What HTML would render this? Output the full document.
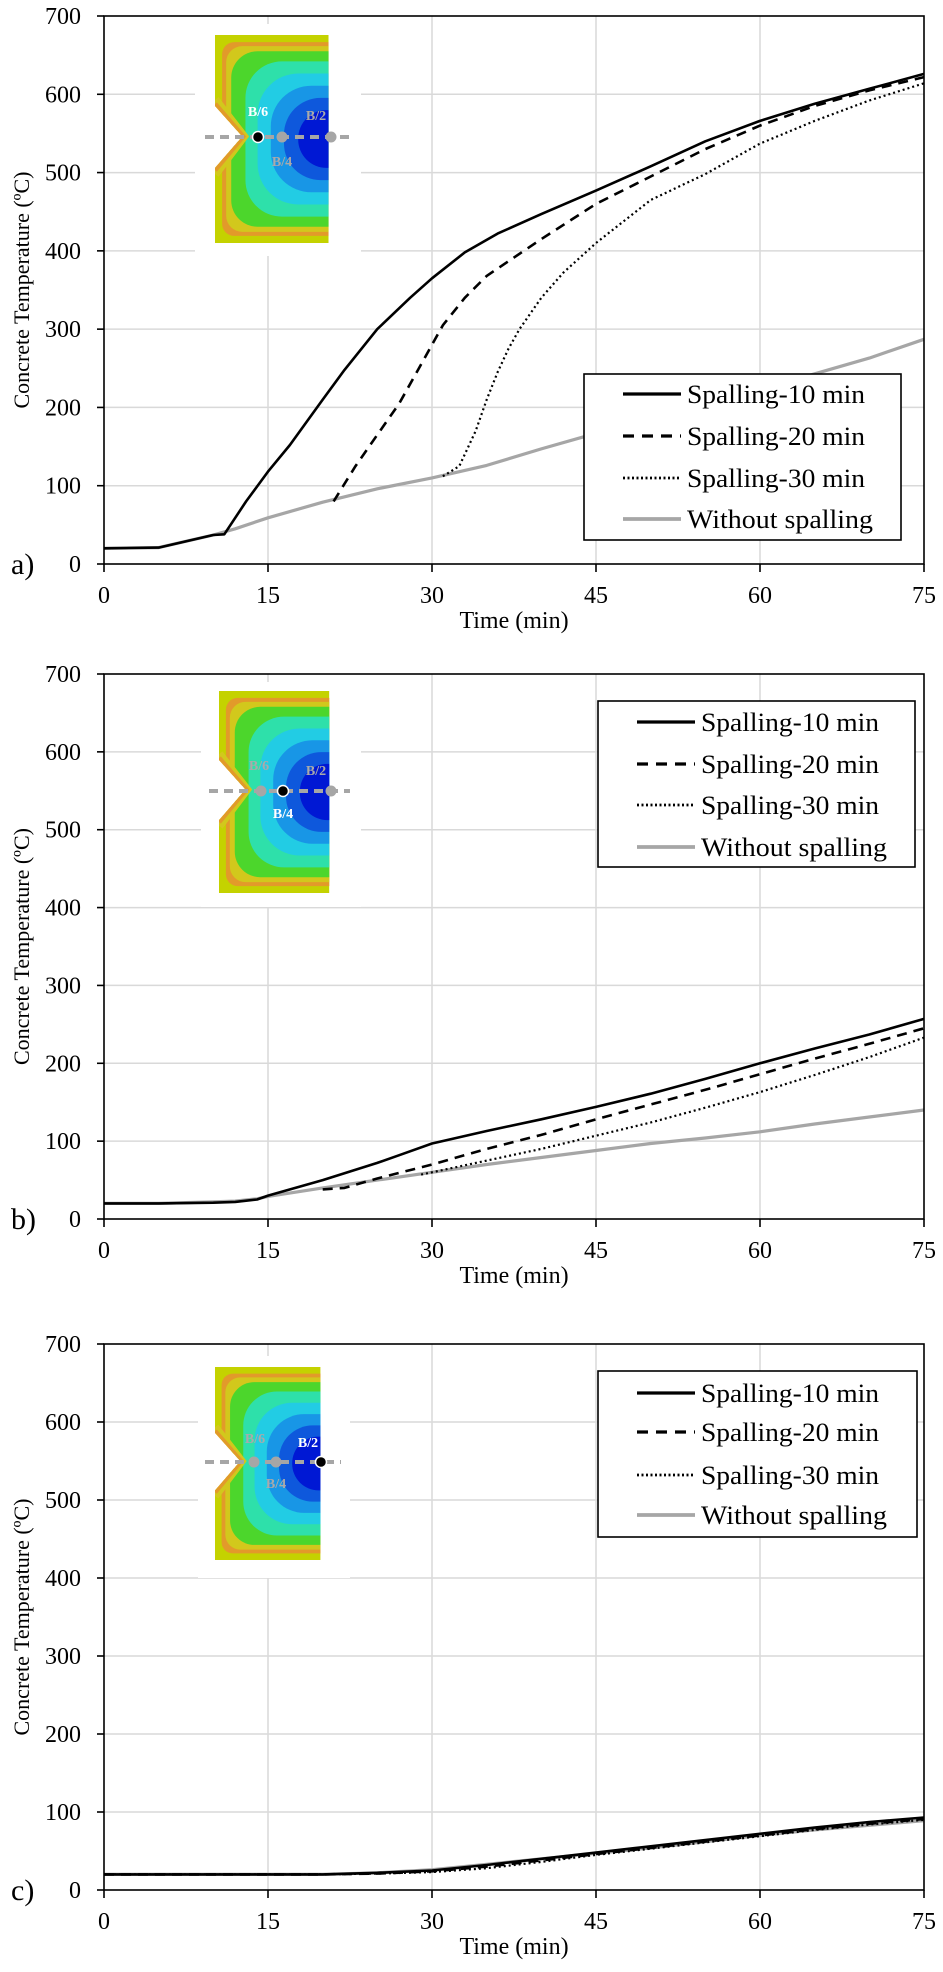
<!DOCTYPE html>
<html><head><meta charset="utf-8">
<style>
html,body{margin:0;padding:0;background:#fff;}
svg{display:block;font-family:"Liberation Serif",serif;}
</style></head>
<body>
<svg id="fig" width="943" height="1972" viewBox="0 0 943 1972" xmlns="http://www.w3.org/2000/svg">
<defs>
<clipPath id="secClip"><polygon points="0,0 112,0 112,205 0,205 0,131 27,100 0,70"/></clipPath>
<g id="section">
<g clip-path="url(#secClip)">
<rect x="0" y="0" width="112" height="205" fill="#c4d200"/>
<rect x="7" y="7" width="130" height="191" rx="12" fill="#e29a2a"/>
<rect x="11" y="11" width="130" height="183" rx="16" fill="#d2c81c"/>
<rect x="16" y="16" width="130" height="173" rx="26" fill="#4cd62c"/>
<rect x="30" y="26" width="130" height="153" rx="36" fill="#2ee0aa"/>
<rect x="42" y="38" width="130" height="129" rx="40" fill="#22cce4"/>
<rect x="55" y="50" width="130" height="105" rx="40" fill="#1896e6"/>
<rect x="68" y="62" width="130" height="81" rx="36" fill="#0e58dc"/>
<rect x="82" y="74" width="130" height="57" rx="28" fill="#0018d4"/>
<polyline points="0,64 28,100 0,137" fill="none" stroke="#d2c81c" stroke-width="9"/>
<polyline points="0,68 27.5,100 0,133" fill="none" stroke="#e29a2a" stroke-width="5"/>
</g>
</g>
</defs>
</svg>
<script>
// ---------- data ----------
const xTicks = [0, 15, 30, 45, 60, 75];
const yTicks = [0, 100, 200, 300, 400, 500, 600, 700];
const legendLabels = ["Spalling-10 min", "Spalling-20 min", "Spalling-30 min", "Without spalling"];
const panelLabels = ["a)", "b)", "c)"];

const aTimeGray = [0,5,10,12,15,20,25,30,35,40,45,50,55,60,65,70,75];
const aGray = [20,21,37,45,59,79,96,110,126,147,167,186,205,223,243,263,287];
const aTime10 = [0,5,10,11,13,15,17,20,22,25,28,30,33,36,40,45,50,55,60,65,70,75];
const a10 = [20,21,37,38,80,118,152,210,248,300,340,365,398,422,447,477,508,540,566,588,607,626];
const aTime20 = [21,23,25,27,29,31,33,35,40,45,50,55,60,65,70,75];
const a20 = [80,125,165,205,255,305,340,368,415,460,495,530,560,585,605,622];
const aTime30 = [31,32.5,34,35,36,37,38,40,42,45,50,55,60,65,70,75];
const a30 = [112,125,170,210,245,275,300,340,372,410,465,498,537,566,592,614];

const bTimeGray = [0,5,10,12,14,15,20,25,30,35,40,45,50,55,60,65,70,75];
const bGray = [20,20,22,23,26,29,40,50,60,70,79,88,97,104,112,122,131,140];
const bTime10 = [0,5,10,12,14,15,20,25,27,30,35,40,45,50,55,60,65,70,75];
const b10 = [20,20,21,22,25,30,50,72,82,97,113,128,144,161,180,200,219,237,257];
const bTime20 = [20,22,25,30,35,40,45,50,55,60,65,70,75];
const b20 = [38,40,52,70,90,108,128,147,166,186,206,225,245];
const bTime30 = [29,30,35,40,45,50,55,60,65,70,75];
const b30 = [57,60,75,90,107,124,143,163,185,208,233];

const cTime = [0,20,25,30,35,40,45,50,55,60,65,70,75];
const c10 = [20,20,22,25,32,40,48,56,64,72,80,87,93];
const c20 = [20,20,21,24,30,38,46,54,62,70,78,85,91];
const c30 = [20,20,21,23,28,36,45,53,61,69,77,84,90];
const cGray = [20,20,22,26,33,40,47,54,62,70,77,83,89];

// ---------- layout ----------
const NS = "http://www.w3.org/2000/svg";
const svg = document.getElementById("fig");
const X0 = 104, X1 = 924, XMAX = 75, YMAX = 700;
const styles = [
  {stroke:"#000", width:2.6, dash:null},
  {stroke:"#000", width:2.6, dash:"10,7"},
  {stroke:"#000", width:2.2, dash:"2,3"},
  {stroke:"#a6a6a6", width:3.2, dash:null}
];
const panels = [
  {top:16, bottom:564, series:[[aTime10,a10],[aTime20,a20],[aTime30,a30],[aTimeGray,aGray]],
   legend:{x:584,y:374,w:317,h:166,rows:[394,436,478,519]},
   inset:{bx:195,by:24,bw:166,bh:232,sx:215,sy:35,sc:208/205,line:137,lx1:205,lx2:350,dots:[258,282,331],black:0,
     labels:[[258,113,"B/6","#fff"],[316,117,"B/2","#aaa"],[282,163,"B/4","#aaa"]]}},
  {top:674, bottom:1219, series:[[bTime10,b10],[bTime20,b20],[bTime30,b30],[bTimeGray,bGray]],
   legend:{x:598,y:701,w:317,h:166,rows:[722,764,805,847]},
   inset:{bx:201,by:682,bw:160,bh:225,sx:219,sy:691,sc:202/205,line:791,lx1:209,lx2:350,dots:[261,283,331],black:1,
     labels:[[259,767,"B/6","#aaa"],[316,772,"B/2","#aaa"],[283,815,"B/4","#fff"]]}},
  {top:1344, bottom:1890, series:[[cTime,c10],[cTime,c20],[cTime,c30],[cTime,cGray]],
   legend:{x:598,y:1371,w:319,h:166,rows:[1393,1432,1475,1515]},
   inset:{bx:198,by:1356,bw:152,bh:222,sx:215,sy:1367,sc:193/205,line:1462,lx1:205,lx2:341,dots:[254,276,321],black:2,
     labels:[[255,1440,"B/6","#aaa"],[308,1444,"B/2","#fff"],[276,1485,"B/4","#aaa"]]}}
];
const seriesNames = ["spalling-10-line","spalling-20-line","spalling-30-line","without-spalling-line"];

function el(tag, attrs, parent){
  const e = document.createElementNS(NS, tag);
  for (const k in attrs) e.setAttribute(k, attrs[k]);
  (parent||svg).appendChild(e);
  return e;
}

panels.forEach((p, pi) => {
  const xs = t => X0 + (t / XMAX) * (X1 - X0);
  const ys = v => p.bottom - (v / YMAX) * (p.bottom - p.top);
  const g = el("g", {});
  
  

  yTicks.forEach(v => {
    if (v === 0 || v === 700) return;
    const l = el("line", {x1:X0, x2:X1, y1:ys(v), y2:ys(v), stroke:"#d9d9d9", "stroke-width":1.5}, g);
    
    
  });
  xTicks.forEach(t => {
    if (t === 0 || t === 75) return;
    const l = el("line", {x1:xs(t), x2:xs(t), y1:p.top, y2:p.bottom, stroke:"#d9d9d9", "stroke-width":1.5}, g);
    
    
  });

  const ins = p.inset;
  const bg = el("rect", {x:ins.bx, y:ins.by, width:ins.bw, height:ins.bh, fill:"#fff"}, g);
  
  
  const sec = el("use", {href:"#section", transform:"translate(" + ins.sx + "," + ins.sy + ") scale(" + ins.sc + ")"}, g);
  
  
  const dl = el("line", {x1:ins.lx1, x2:ins.lx2, y1:ins.line, y2:ins.line, stroke:"#a6a6a6", "stroke-width":4, "stroke-dasharray":"9,6"}, g);
  
  
  ins.dots.forEach((dx, di) => {
    const isB = di === ins.black;
    const c = el("circle", {cx:dx, cy:ins.line, r:5.5, fill:isB?"#000":"#a6a6a6", stroke:isB?"#fff":"none", "stroke-width":1.5}, g);
    
    
  });
  ins.labels.forEach(lb => {
    const t = el("text", {x:lb[0], y:lb[1], "text-anchor":"middle", "dominant-baseline":"middle", "font-size":"14", "font-weight":"bold", fill:lb[3]}, g);
    t.textContent = lb[2];
    
    
  });

  p.series.slice().reverse().forEach((s, ri) => {
    const si = 3 - ri;
    const st = styles[si];
    const pts = s[0].map((t, i) => xs(t).toFixed(1) + "," + ys(s[1][i]).toFixed(1)).join(" ");
    const pl = el("polyline", {points:pts, fill:"none", stroke:st.stroke, "stroke-width":st.width, "stroke-linejoin":"round"}, g);
    if (st.dash) pl.setAttribute("stroke-dasharray", st.dash);
    
    
  });

  const fr = el("rect", {x:X0, y:p.top, width:X1-X0, height:p.bottom-p.top, fill:"none", stroke:"#000", "stroke-width":1.6}, g);
  
  

  yTicks.forEach(v => {
    const tk = el("line", {x1:X0-7, x2:X0, y1:ys(v), y2:ys(v), stroke:"#000", "stroke-width":1.6}, g);
    
    
    const t = el("text", {x:81, y:ys(v)+8, "text-anchor":"end", "font-size":"24", fill:"#000"}, g);
    t.textContent = v;
    
    
  });
  xTicks.forEach(tv => {
    const tk = el("line", {x1:xs(tv), x2:xs(tv), y1:p.bottom, y2:p.bottom+8, stroke:"#000", "stroke-width":1.6}, g);
    
    
    const t = el("text", {x:xs(tv), y:p.bottom+39, "text-anchor":"middle", "font-size":"24", fill:"#000"}, g);
    t.textContent = tv;
    
    
  });
  const xt = el("text", {x:(X0+X1)/2, y:p.bottom+64, "text-anchor":"middle", "font-size":"24", fill:"#000"}, g);
  xt.textContent = "Time (min)";
  
  
  const cy = (p.top + p.bottom) / 2;
  const yt = el("text", {x:0, y:0, transform:"translate(29," + cy + ") rotate(-90)", "text-anchor":"middle", "font-size":"22", fill:"#000"}, g);
  yt.textContent = "Concrete Temperature (ºC)";
  
  
  const pl = el("text", {x:11, y:p.bottom+10, "font-size":"30", fill:"#000"}, g);
  pl.textContent = panelLabels[pi];
  
  

  const L = p.legend;
  const lg = el("g", {}, g);
  
  
  const lb = el("rect", {x:L.x, y:L.y, width:L.w, height:L.h, fill:"#fff", stroke:"#000", "stroke-width":1.6}, lg);
  
  
  legendLabels.forEach((name, li) => {
    const st = styles[li];
    const ry = L.rows[li];
    const ln = el("line", {x1:L.x+39, x2:L.x+97, y1:ry, y2:ry, stroke:st.stroke, "stroke-width":st.width+0.6}, lg);
    if (st.dash) ln.setAttribute("stroke-dasharray", li===1 ? "11,8" : "2,2.5");
    
    
    const t = el("text", {x:L.x+103, y:ry+9, "font-size":"26", fill:"#000", textLength: li===3 ? "186" : "178", lengthAdjust:"spacingAndGlyphs"}, lg);
    t.textContent = name;
    
    
  });
});
</script>
</body></html>
